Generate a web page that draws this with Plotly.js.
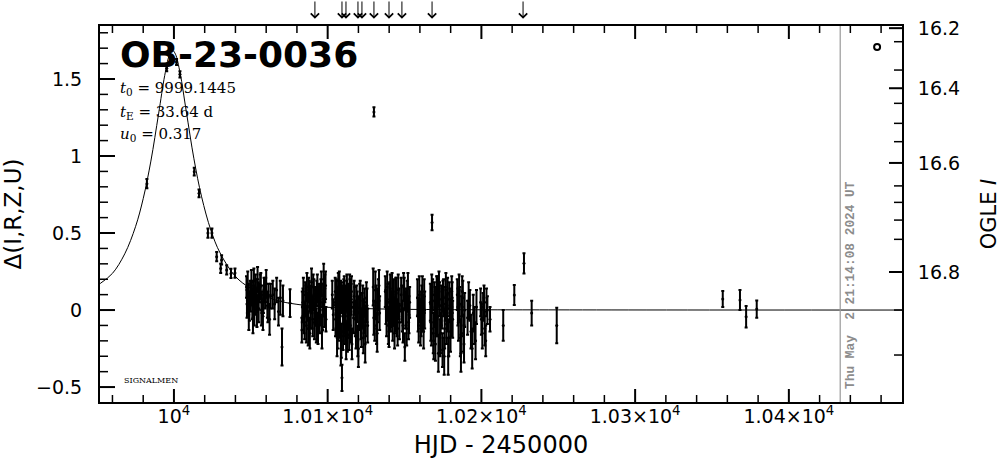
<!DOCTYPE html>
<html>
<head>
<meta charset="utf-8">
<script src="https://cdn.plot.ly/plotly-3.0.1.min.js"></script>
<style>html,body{margin:0;padding:0;background:#fff;}#chart{width:1004px;height:459px;}</style>
</head>
<body>
<div id="chart"></div>
<script>
// ---- Observed points (HJD-2450000, Delta flux, error) ----
const peakT = [9982.4, 9995.3, 10001.7, 10003.9, 10013.2, 10016.3, 10022.1, 10024.7, 10027.8, 10030.4, 10031.0, 10034.3, 10037.1, 10039.7];
const peakD = [0.82, 1.57, 1.61, 1.53, 0.898, 0.758, 0.50, 0.50, 0.346, 0.27, 0.325, 0.26, 0.238, 0.24];
const peakE = [0.03, 0.02, 0.02, 0.02, 0.025, 0.025, 0.03, 0.03, 0.03, 0.03, 0.03, 0.03, 0.03, 0.03];

const seasonT = [
  10047.2, 10047.8, 10048.3, 10049.1, 10049.6, 10050.4, 10051.0, 10051.7, 10052.3, 10053.0, 10053.6, 10054.4,
  10055.1, 10055.7, 10056.5, 10057.2, 10057.9, 10058.6, 10059.3, 10060.0, 10060.8, 10061.5, 10062.2, 10062.9,
  10064.3, 10065.5, 10066.8, 10068.0, 10069.2, 10070.3, 10070.9, 10075.5,
  10083.2, 10083.9, 10084.6, 10085.4, 10086.1, 10086.9, 10087.6, 10088.4, 10089.1, 10089.9, 10090.6, 10091.4,
  10092.2, 10092.9, 10093.7, 10094.4, 10095.2, 10095.9, 10096.7, 10097.4, 10098.2, 10098.9, 10103.0, 10103.6,
  10104.9, 10105.4, 10105.9, 10106.4, 10106.9, 10107.4, 10107.9, 10108.4, 10108.9, 10109.3, 10109.8, 10110.3,
  10110.8, 10111.3, 10111.8, 10112.3, 10112.8, 10113.3, 10113.8, 10114.3, 10114.8, 10115.3, 10115.8,
  10116.8, 10117.6, 10118.4, 10119.2, 10120.0, 10120.8, 10121.6, 10122.4, 10123.2, 10124.0, 10124.8, 10125.6,
  10129.6, 10130.1, 10130.6, 10131.4, 10132.2, 10133.0, 10133.8,
  10137.5, 10138.3, 10139.1, 10139.9, 10140.7, 10141.5, 10142.3, 10143.1, 10143.9, 10144.7, 10145.5, 10146.3,
  10147.8, 10148.6, 10149.4, 10150.2, 10151.0, 10151.8, 10152.6, 10153.3,
  10158.4, 10159.2, 10160.0, 10160.8, 10161.6, 10162.4, 10163.1,
  10166.8, 10167.5, 10167.9, 10168.3, 10169.0, 10169.8, 10170.5, 10171.3, 10172.0, 10172.8, 10173.5, 10174.3,
  10175.0, 10175.8, 10176.5, 10177.3, 10178.0, 10178.8, 10179.5, 10180.3, 10181.0,
  10184.3, 10185.1, 10185.9, 10186.7, 10187.5, 10188.3, 10189.1,
  10191.0, 10192.5, 10194.0, 10195.5, 10196.8,
  10199.5, 10200.6, 10201.7, 10202.8, 10203.9, 10205.6,
  10214.2, 10221.4, 10227.7, 10232.7, 10249.0,
  10357.0, 10368.2, 10372.2, 10379.1
];
const seasonD = [
  0.15, 0.06, 0.10, 0.02, 0.12, 0.18, 0.04, 0.09, -0.02, 0.14, 0.07, 0.20,
  0.01, 0.11, 0.16, 0.05, -0.04, 0.13, 0.08, 0.17, 0.03, 0.10, -0.06, 0.09,
  0.10, 0.04, 0.13, -0.01, 0.08, -0.24, 0.06, 0.045,
  -0.13, 0.05, -0.05, 0.10, -0.10, 0.02, 0.13, -0.15, 0.07, -0.02, 0.15, -0.08,
  0.04, 0.11, -0.12, 0.08, 0.00, 0.17, -0.04, 0.20, 0.14, -0.06, 0.10, -0.03,
  0.12, -0.02, 0.08, -0.15, 0.15, 0.03, -0.08, 0.10, -0.20, -0.44, 0.06, -0.05,
  0.13, -0.12, 0.01, 0.09, -0.18, 0.05, -0.03, 0.14, -0.10, 0.07, -0.22,
  -0.05, 0.06, -0.14, 0.02, -0.25, 0.08, -0.09, 0.00, -0.18, 0.05, -0.07, 0.03,
  0.15, 1.286, -0.10, 0.05, -0.15, 0.10, -0.02,
  0.12, -0.06, 0.05, -0.14, 0.14, 0.00, -0.10, 0.08, -0.03, 0.11, -0.12, 0.04,
  0.10, -0.04, 0.15, -0.24, 0.02, 0.09, -0.08, 0.05,
  0.08, -0.10, 0.02, -0.05, 0.12, -0.14, 0.00,
  0.05, -0.12, 0.568, 0.10, -0.20, 0.02, -0.06, 0.12, -0.28, 0.07, -0.15, 0.00,
  0.09, -0.30, 0.04, -0.09, 0.11, -0.18, 0.03, -0.05, 0.08,
  0.10, -0.08, 0.04, -0.28, 0.12, -0.15, 0.00,
  -0.05, 0.03, -0.25, -0.10, 0.02,
  0.05, -0.15, 0.08, -0.20, 0.00, -0.06,
  -0.10, 0.097, 0.303, -0.02, -0.10,
  0.071, 0.065, -0.043, 0.006
];
const seasonE = [
  0.07, 0.08, 0.06, 0.09, 0.07, 0.08, 0.10, 0.07, 0.08, 0.09, 0.07, 0.08,
  0.09, 0.06, 0.08, 0.07, 0.09, 0.08, 0.07, 0.09, 0.08, 0.07, 0.10, 0.08,
  0.09, 0.10, 0.08, 0.09, 0.11, 0.12, 0.10, 0.09,
  0.08, 0.09, 0.10, 0.08, 0.11, 0.09, 0.08, 0.10, 0.09, 0.10, 0.08, 0.11,
  0.09, 0.08, 0.10, 0.09, 0.10, 0.08, 0.09, 0.10, 0.09, 0.08, 0.09, 0.10,
  0.09, 0.10, 0.11, 0.10, 0.09, 0.12, 0.10, 0.09, 0.11, 0.085, 0.10, 0.12,
  0.09, 0.10, 0.11, 0.10, 0.09, 0.12, 0.10, 0.09, 0.11, 0.10, 0.10,
  0.10, 0.09, 0.11, 0.10, 0.12, 0.09, 0.10, 0.11, 0.10, 0.09, 0.10, 0.11,
  0.12, 0.03, 0.10, 0.11, 0.12, 0.10, 0.11,
  0.10, 0.11, 0.12, 0.10, 0.09, 0.11, 0.10, 0.12, 0.11, 0.10, 0.11, 0.10,
  0.11, 0.10, 0.09, 0.09, 0.12, 0.10, 0.11, 0.10,
  0.12, 0.11, 0.10, 0.12, 0.10, 0.11, 0.12,
  0.12, 0.11, 0.05, 0.10, 0.12, 0.13, 0.11, 0.10, 0.12, 0.11, 0.13, 0.12,
  0.10, 0.12, 0.11, 0.13, 0.10, 0.12, 0.11, 0.12, 0.10,
  0.10, 0.12, 0.11, 0.12, 0.10, 0.12, 0.11,
  0.11, 0.10, 0.13, 0.12, 0.11,
  0.09, 0.10, 0.08, 0.10, 0.09, 0.08,
  0.10, 0.065, 0.065, 0.08, 0.115,
  0.052, 0.065, 0.07, 0.056
];

// additional points inside the dense 2023 season
const denseT = [
  10047.5, 10048.0, 10048.7, 10049.9, 10050.7, 10051.4, 10052.0, 10052.7, 10053.3, 10054.0, 10054.8, 10056.1, 10056.9, 10058.2, 10059.7, 10061.1,
  10083.5, 10084.2, 10085.0, 10085.8, 10086.5, 10087.3, 10088.0, 10088.8, 10089.5, 10090.3, 10091.0, 10091.8, 10092.6, 10093.3, 10094.1, 10094.8, 10095.6, 10096.3, 10097.0, 10097.8, 10098.6,
  10105.1, 10105.6, 10106.1, 10106.6, 10107.1, 10107.6, 10108.1, 10108.6, 10109.1, 10110.0, 10110.5, 10111.0, 10111.5, 10112.0, 10112.5, 10113.0, 10113.5, 10114.0, 10114.5, 10115.0, 10115.5,
  10117.2, 10118.0, 10118.8, 10119.6, 10120.4, 10121.2, 10122.0, 10122.8, 10123.6, 10124.4, 10125.2, 10126.0,
  10130.0, 10131.0, 10131.8, 10132.6, 10133.4,
  10137.9, 10138.7, 10139.5, 10140.3, 10141.1, 10141.9, 10142.7, 10143.5, 10144.3, 10145.1, 10145.9, 10146.7,
  10148.2, 10149.0, 10149.8, 10150.6, 10151.4, 10152.2, 10152.9,
  10158.8, 10159.6, 10160.4, 10161.2, 10162.0, 10162.8,
  10167.1, 10167.7, 10168.7, 10169.4, 10170.1, 10170.9, 10171.7, 10172.4, 10173.1, 10173.9, 10174.7, 10175.4, 10176.1, 10176.9, 10177.7, 10178.4, 10179.1, 10179.9, 10180.7, 10181.3,
  10184.7, 10185.5, 10186.3, 10187.1, 10187.9, 10188.7,
  10191.7, 10193.2, 10194.7, 10196.2,
  10200.0, 10201.1, 10202.2, 10203.3
];
const denseD = [
  0.04, 0.17, -0.03, 0.08, 0.11, -0.05, 0.19, 0.06, 0.12, -0.01, 0.09, 0.15, 0.00, 0.07, 0.13, 0.02,
  0.02, 0.12, -0.08, 0.06, 0.15, -0.12, 0.09, 0.00, 0.18, -0.06, 0.10, 0.03, -0.10, 0.14, 0.05, -0.03, 0.11, -0.14, 0.07, 0.01, 0.16,
  -0.06, 0.10, -0.18, 0.04, -0.10, 0.16, -0.01, -0.25, 0.08, -0.14, 0.11, -0.04, 0.06, -0.20, 0.13, -0.07, 0.02, -0.16, 0.09, -0.02, 0.12,
  0.09, -0.06, 0.04, -0.20, -0.02, 0.10, -0.12, 0.06, -0.04, -0.22, 0.08, -0.10,
  -0.05, 0.13, -0.12, 0.03, 0.16,
  0.02, 0.15, -0.10, 0.07, -0.04, 0.12, 0.01, -0.15, 0.10, -0.05, 0.13, -0.08,
  0.04, -0.10, 0.11, 0.00, -0.12, 0.14, -0.03,
  -0.03, 0.10, -0.12, 0.06, -0.02, 0.09,
  -0.08, 0.12, -0.15, 0.06, -0.22, 0.10, -0.04, 0.14, -0.18, 0.03, -0.26, 0.08, -0.12, 0.13, -0.02, -0.30, 0.07, -0.14, 0.12, -0.06,
  0.02, 0.13, -0.18, -0.04, 0.08, -0.22,
  0.06, -0.14, -0.02, -0.20,
  -0.06, 0.02, -0.12, 0.05
];
const denseE = [
  0.09, 0.08, 0.10, 0.09, 0.08, 0.10, 0.08, 0.09, 0.08, 0.10, 0.09, 0.08, 0.10, 0.09, 0.08, 0.10,
  0.10, 0.09, 0.11, 0.10, 0.09, 0.11, 0.10, 0.12, 0.09, 0.11, 0.10, 0.12, 0.11, 0.09, 0.10, 0.12, 0.09, 0.11, 0.10, 0.12, 0.09,
  0.11, 0.10, 0.12, 0.11, 0.10, 0.09, 0.12, 0.11, 0.10, 0.12, 0.09, 0.11, 0.10, 0.12, 0.10, 0.11, 0.12, 0.10, 0.11, 0.12, 0.10,
  0.10, 0.11, 0.12, 0.10, 0.11, 0.09, 0.12, 0.10, 0.11, 0.12, 0.10, 0.11,
  0.11, 0.12, 0.10, 0.11, 0.10,
  0.11, 0.10, 0.12, 0.11, 0.10, 0.12, 0.11, 0.10, 0.11, 0.12, 0.10, 0.11,
  0.12, 0.11, 0.10, 0.12, 0.11, 0.10, 0.12,
  0.11, 0.12, 0.11, 0.10, 0.12, 0.11,
  0.12, 0.11, 0.13, 0.12, 0.11, 0.12, 0.13, 0.11, 0.12, 0.13, 0.11, 0.12, 0.13, 0.11, 0.12, 0.12, 0.11, 0.13, 0.10, 0.12,
  0.12, 0.10, 0.12, 0.13, 0.11, 0.12,
  0.12, 0.11, 0.12, 0.12,
  0.10, 0.09, 0.11, 0.09
];

// latest OGLE point (open circle)
const lastT = [10457.4];
const lastD = [1.708];

// ---- Model curve ----
const modelT = [9952, 9960, 9968, 9975, 9980, 9985, 9990, 9994, 9997, 9999.14, 10001, 10004, 10008, 10013, 10018, 10024, 10030, 10040, 10050, 10065, 10080, 10100, 10130, 10170, 10250, 10474];
const modelD = [0.172, 0.238, 0.365, 0.541, 0.723, 0.967, 1.273, 1.523, 1.654, 1.685, 1.661, 1.539, 1.291, 0.982, 0.735, 0.519, 0.371, 0.218, 0.140, 0.068, 0.037, 0.018, 0.008, 0.003, 0.001, 0.0];

// ---- Anomaly markers (arrows along the top) ----
const arrowT = [10091.7, 10109.3, 10111.9, 10119.7, 10122.3, 10130.1, 10139.9, 10148.3, 10167.9, 10227.1];

// ---- Axis tick labels ----
const xTickVals = [10000, 10100, 10200, 10300, 10400];
const xTickText = ['10<sup>4</sup>', '1.01×10<sup>4</sup>', '1.02×10<sup>4</sup>', '1.03×10<sup>4</sup>', '1.04×10<sup>4</sup>'];
const yTickVals = [-0.5, 0, 0.5, 1, 1.5];
const yTickText = ['−0.5', '0', '0.5', '1', '1.5'];
const magLabels = ['16.2', '16.4', '16.6', '16.8'];
const magTickDelta = [1.83, 1.44, 0.955, 0.247];
const magMinorDelta = [1.742, 1.558, 1.342, 1.212, 1.093, 0.806, 0.699, 0.584, 0.459, 0.0, -0.292];

const eventName = 'OB-23-0036';
const nowLine = 10433.4;
const nowText = 'Thu May  2 21:14:08 2024 UT';

const XR = [9951.9, 10473.6];
const YR = [-0.597, 1.844];

const W = 1004, H = 459, M = {l: 100, r: 102, t: 26, b: 57};
const plotW = W - M.l - M.r, plotH = H - M.t - M.b;

const allT = peakT.concat(seasonT, denseT);
const allD = peakD.concat(seasonD, denseD);
const allE = peakE.concat(seasonE, denseE);

// ---- Frame tick marks, built from the tick value arrays in axis units ----
const xMinor = [];
for (let v = 9960; v < XR[1]; v += 20) if (!xTickVals.includes(v)) xMinor.push(v);
const yMinor = [];
for (let k = -5; k <= 18; k++) { if (k % 5 !== 0) yMinor.push(k / 10); }
const dyPerPx = (YR[1] - YR[0]) / plotH, dxPerPx = (XR[1] - XR[0]) / plotW;
function tickPath(xv, yv, xlen, ylen, rightV) {
  const px = [], py = [];
  xv.forEach(v => {
    px.push(v, v, null, v, v, null);
    py.push(YR[0], YR[0] + xlen * dyPerPx, null, YR[1], YR[1] - xlen * dyPerPx, null);
  });
  yv.forEach(v => { px.push(XR[0], XR[0] + ylen * dxPerPx, null); py.push(v, v, null); });
  rightV.forEach(v => { px.push(XR[1], XR[1] - ylen * dxPerPx, null); py.push(v, v, null); });
  return {px, py};
}
const majorTicks = tickPath(xTickVals, yTickVals, 13, 15, []);
const majorRight = tickPath([], [], 13, 13, magTickDelta);
const minorTicks = tickPath(xMinor, yMinor, 7, 8, magMinorDelta);

const traces = [
  {x: modelT, y: modelD, type: 'scatter', mode: 'lines', line: {color: '#000', width: 1, shape: 'spline', smoothing: 1.0}, hoverinfo: 'skip'},
  {x: allT, y: allD, type: 'scatter', mode: 'markers',
   marker: {color: '#000', size: 3},
   error_y: {type: 'data', array: allE, visible: true, color: '#000', thickness: 2, width: 1.5}},
  {x: lastT, y: lastD, type: 'scatter', mode: 'markers', marker: {symbol: 'circle-open', color: '#000', size: 6, line: {width: 2, color: '#000'}}},
  {x: majorTicks.px, y: majorTicks.py, type: 'scatter', mode: 'lines', connectgaps: false, line: {color: '#000', width: 2}, hoverinfo: 'skip'},
  {x: majorRight.px, y: majorRight.py, type: 'scatter', mode: 'lines', connectgaps: false, line: {color: '#000', width: 2}, hoverinfo: 'skip'},
  {x: minorTicks.px, y: minorTicks.py, type: 'scatter', mode: 'lines', connectgaps: false, line: {color: '#000', width: 1.5}, hoverinfo: 'skip'},
  {x: [XR[0]], y: [0], yaxis: 'y2', type: 'scatter', mode: 'markers', marker: {opacity: 0}, hoverinfo: 'skip'}
];

const tickFont = {family: 'DejaVu Sans', size: 19, color: '#000'};
const annotations = [
  {xref: 'paper', yref: 'paper', x: 0.023, y: 0.925, xanchor: 'left', yanchor: 'middle', showarrow: false,
   text: eventName, font: {family: 'DejaVu Sans', size: 36, weight: 'bold', color: '#000'}},
  {xref: 'paper', yref: 'paper', x: 0.022, y: 0.834, xanchor: 'left', yanchor: 'middle', showarrow: false,
   text: '<i>t</i><sub>0</sub> = 9999.1445', font: {family: 'DejaVu Serif', size: 15, color: '#000'}},
  {xref: 'paper', yref: 'paper', x: 0.022, y: 0.771, xanchor: 'left', yanchor: 'middle', showarrow: false,
   text: '<i>t</i><sub>E</sub> = 33.64 d', font: {family: 'DejaVu Serif', size: 15, color: '#000'}},
  {xref: 'paper', yref: 'paper', x: 0.022, y: 0.712, xanchor: 'left', yanchor: 'middle', showarrow: false,
   text: '<i>u</i><sub>0</sub> = 0.317', font: {family: 'DejaVu Serif', size: 15, color: '#000'}},
  {xref: 'paper', yref: 'paper', x: 0.027, y: 0.056, xanchor: 'left', yanchor: 'middle', showarrow: false,
   text: 'SIGNALMEN', font: {family: 'DejaVu Serif', size: 8, color: '#000'}},
  {xref: 'x', yref: 'paper', x: nowLine, xshift: 10, y: 0.312, xanchor: 'center', yanchor: 'middle', showarrow: false,
   textangle: -90, text: nowText, font: {family: 'Liberation Mono', size: 12.8, weight: 'bold', color: '#8c8c8c'}}
];
arrowT.forEach(t => annotations.push({
  xref: 'x', yref: 'paper', x: t, y: 1.019, ax: 0, ay: -19, axref: 'pixel', ayref: 'pixel',
  showarrow: true, arrowhead: 4, arrowsize: 1.6, arrowwidth: 1, arrowcolor: '#000', text: ''
}));

const nb = '\u00a0\u00a0';
const layout = {
  width: W, height: H,
  margin: M,
  paper_bgcolor: '#fff', plot_bgcolor: '#fff',
  showlegend: false,
  font: {family: 'DejaVu Sans', color: '#000'},
  xaxis: {
    range: XR, tickmode: 'array', tickvals: xTickVals, ticktext: xTickText,
    ticks: '', showline: true, linewidth: 2, linecolor: 'black', mirror: true,
    showgrid: false, zeroline: false, tickfont: tickFont, ticklabelstandoff: -4,
    title: {text: 'HJD - 2450000', font: {family: 'DejaVu Sans', size: 24, color: '#000'}, standoff: 12}
  },
  yaxis: {
    range: YR, tickmode: 'array', tickvals: yTickVals, ticktext: yTickText.map(s => s + nb),
    ticks: '', showline: true, linewidth: 2, linecolor: 'black',
    showgrid: false, zeroline: false, tickfont: tickFont,
    title: {text: 'Δ(I,R,Z,U)', font: {family: 'DejaVu Sans', size: 23, color: '#000'}, standoff: 8}
  },
  yaxis2: {
    range: YR, overlaying: 'y', anchor: 'x', side: 'right', tickmode: 'array', tickvals: magTickDelta, ticktext: magLabels,
    ticks: '', showline: true, linewidth: 2, linecolor: 'black',
    showgrid: false, zeroline: false, tickfont: tickFont, ticklabelstandoff: 10,
    title: {text: 'OGLE <i>I</i>', font: {family: 'DejaVu Sans', size: 21, color: '#000'}, standoff: 22}
  },
  shapes: [
    {type: 'line', layer: 'above', xref: 'x', yref: 'paper', x0: nowLine, x1: nowLine, y0: 0, y1: 1, line: {color: '#999', width: 1.2}}
  ],
  annotations: annotations
};

Plotly.newPlot('chart', traces, layout, {displayModeBar: false});
</script>
</body>
</html>
